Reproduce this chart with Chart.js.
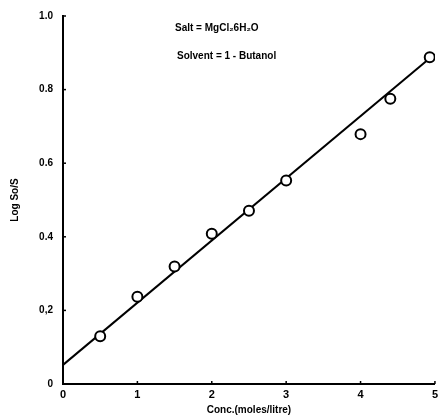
<!DOCTYPE html>
<html>
<head>
<meta charset="utf-8">
<script src="https://cdn.jsdelivr.net/npm/chart.js@4/dist/chart.umd.min.js"></script>
<style>
html,body{margin:0;padding:0;background:#fff;}
#wrap{width:442px;height:416px;}
</style>
</head>
<body>
<div id="wrap"><canvas id="c" width="442" height="416"></canvas></div>
<script>
// Data
const concValues = [0.5, 1.0, 1.5, 2.0, 2.5, 3.0, 4.0, 4.4, 4.93];
const logValues  = [0.13, 0.237, 0.319, 0.408, 0.471, 0.553, 0.679, 0.775, 0.888];
const fitX = [0, 4.93];
const fitY = [0.052, 0.885];
const xTickValues = [0, 1, 2, 3, 4, 5];
const xTickLabels = ["0", "1", "2", "3", "4", "5"];
const yTickValues = [0, 0.2, 0.4, 0.6, 0.8, 1.0];
const yTickLabels = ["0", "0,2", "0.4", "0.6", "0.8", "1.0"];
const annotationLines = ["Salt = MgCl\u20826H\u2082O", "Solvent = 1 - Butanol"];
const xTitle = "Conc.(moles/litre)";
const yTitle = "Log So/S";

const FONT = "'Liberation Sans', Arial, sans-serif";

const extras = {
  id: 'extras',
  afterDraw(chart) {
    const ctx = chart.ctx;
    const xs = chart.scales.x, ys = chart.scales.y;
    ctx.save();
    ctx.strokeStyle = '#000';
    ctx.lineWidth = 1.5;
    // inward tick marks
    xTickValues.forEach(v => {
      const px = xs.getPixelForValue(v);
      ctx.beginPath(); ctx.moveTo(px, ys.bottom); ctx.lineTo(px, ys.bottom - 3); ctx.stroke();
    });
    yTickValues.forEach(v => {
      const py = ys.getPixelForValue(v);
      ctx.beginPath(); ctx.moveTo(xs.left, py); ctx.lineTo(xs.left + 3, py); ctx.stroke();
    });
    // annotation text
    ctx.fillStyle = '#000';
    ctx.font = "bold 10px " + FONT;
    ctx.textBaseline = 'middle';
    ctx.textAlign = 'left';
    ctx.fillText(annotationLines[0], 175, 28);
    ctx.fillText(annotationLines[1], 177, 56);
    ctx.restore();
  }
};

new Chart(document.getElementById('c'), {
  type: 'scatter',
  data: {
    datasets: [
      {
        type: 'line',
        data: fitX.map((x, i) => ({x: x, y: fitY[i]})),
        borderColor: '#000',
        borderWidth: 2,
        pointRadius: 0,
        fill: false,
        order: 2
      },
      {
        data: concValues.map((x, i) => ({x: x, y: logValues[i]})),
        pointStyle: 'circle',
        pointRadius: 5,
        pointBorderWidth: 2,
        pointBackgroundColor: '#fff',
        pointBorderColor: '#000',
        showLine: false,
        order: 1
      }
    ]
  },
  options: {
    responsive: false,
    animation: false,
    events: [],
    layout: { padding: { left: 0, right: 7, top: 16, bottom: 0 } },
    plugins: { legend: { display: false }, tooltip: { enabled: false } },
    scales: {
      x: {
        type: 'linear',
        min: 0, max: 5,
        afterBuildTicks(scale) { scale.ticks = xTickValues.map(v => ({value: v})); },
        afterFit(scale) { scale.height = 32; },
        grid: { display: false, drawTicks: false, tickLength: 0 },
        border: { display: true, color: '#000', width: 2 },
        ticks: {
          padding: 4,
          color: '#000',
          font: { family: FONT, size: 11, weight: 'bold' },
          callback: (v) => xTickLabels[xTickValues.indexOf(v)]
        },
        title: {
          display: true, text: xTitle, color: '#000',
          padding: { top: 0, bottom: 0 },
          font: { family: FONT, size: 10, weight: 'bold' }
        }
      },
      y: {
        type: 'linear',
        min: 0, max: 1.0,
        afterBuildTicks(scale) { scale.ticks = yTickValues.map(v => ({value: v})); },
        afterFit(scale) { scale.width = 63; },
        grid: { display: false, drawTicks: false, tickLength: 0 },
        border: { display: true, color: '#000', width: 2 },
        ticks: {
          padding: 10,
          color: '#000',
          font: { family: FONT, size: 10, weight: 'bold' },
          callback: (v) => {
            const i = yTickValues.findIndex(t => Math.abs(t - v) < 1e-9);
            return i >= 0 ? yTickLabels[i] : '';
          }
        },
        title: {
          display: true, text: yTitle, color: '#000',
          padding: { top: 9, bottom: 0 },
          font: { family: FONT, size: 10, weight: 'bold' }
        }
      }
    }
  },
  plugins: [extras]
});
</script>
</body>
</html>
